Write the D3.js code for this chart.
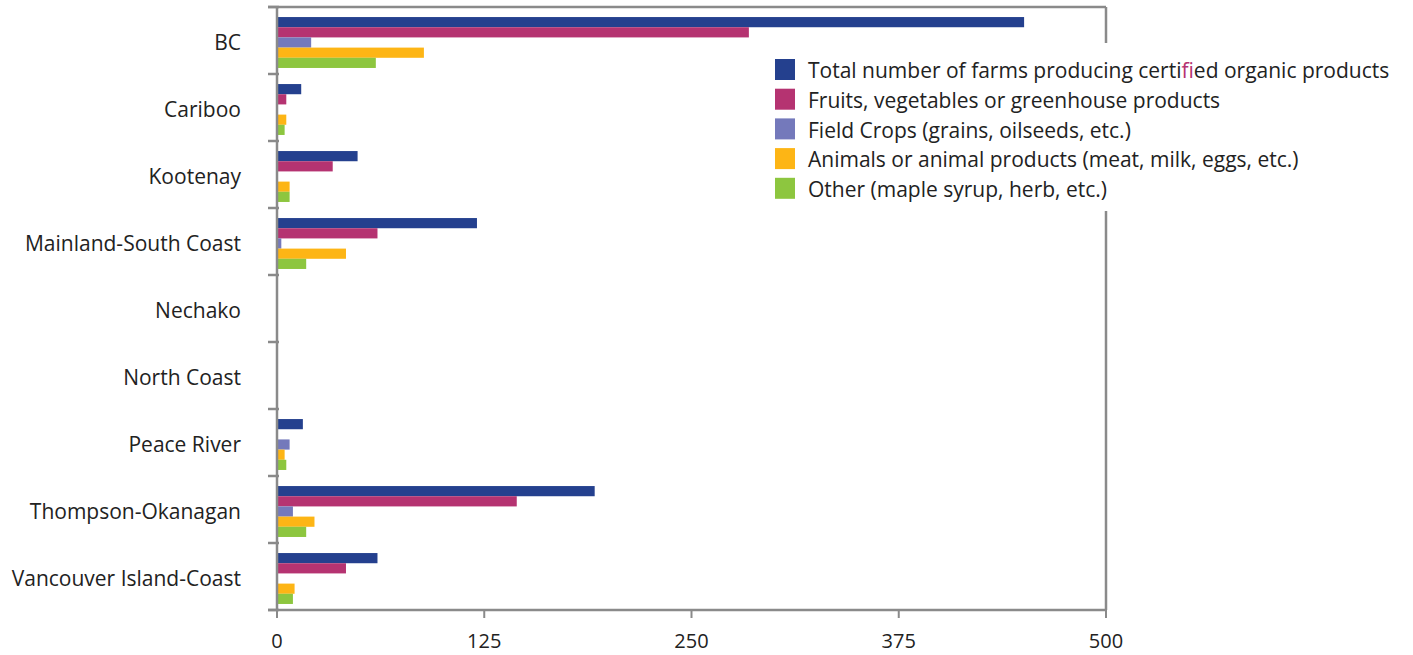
<!DOCTYPE html>
<html>
<head>
<meta charset="utf-8">
<script src="https://cdn.jsdelivr.net/npm/d3@7"></script>
<style>
  body { margin: 0; background: #fff; }
  text { font-family: "Open Sans", sans-serif; fill: #222; }
</style>
</head>
<body>
<svg width="1413" height="655"></svg>
<script>
// regions (top to bottom)
var regions = ["BC", "Cariboo", "Kootenay", "Mainland-South Coast", "Nechako",
               "North Coast", "Peace River", "Thompson-Okanagan", "Vancouver Island-Coast"];

var seriesNames = [
  "Total number of farms producing certified organic products",
  "Fruits, vegetables or greenhouse products",
  "Field Crops (grains, oilseeds, etc.)",
  "Animals or animal products (meat, milk, eggs, etc.)",
  "Other (maple syrup, herb, etc.)"
];
var colors = ["#24408e", "#b53371", "#7479bb", "#fdb515", "#8dc63f"];

// values, one array per series
var totalFarms = [450, 14, 48, 120, 0, 0, 15, 191, 60];
var fruitsVeg  = [284, 5, 33, 60, 0, 0, 0, 144, 41];
var fieldCrops = [20, 0, 0, 2, 0, 0, 7, 9, 0];
var animals    = [88, 5, 7, 41, 0, 0, 4, 22, 10];
var other      = [59, 4, 7, 17, 0, 0, 5, 17, 9];
var series = [totalFarms, fruitsVeg, fieldCrops, animals, other];

var xTicks = [0, 125, 250, 375, 500];

var svg = d3.select("svg"),
    margin = {top: 7, right: 307, bottom: 45, left: 277},
    width = svg.attr("width") - margin.left - margin.right,
    height = svg.attr("height") - margin.top - margin.bottom;

var g = svg.append("g")
    .attr("transform", "translate(" + margin.left + "," + margin.top + ")");

var x = d3.scaleLinear().domain([0, 500]).range([0, width]);
var y = d3.scaleBand().domain(regions).range([0, height]);
var bw = y.bandwidth();
var y1 = d3.scaleBand().domain(d3.range(series.length)).range([bw * 0.15, bw * 0.91]);

// bars
regions.forEach(function(r, i) {
  var row = g.append("g").attr("transform", "translate(0," + y(r) + ")");
  row.selectAll("rect")
    .data(series.map(function(s, k) { return {k: k, v: s[i]}; }).filter(function(d) { return d.v > 0; }))
    .enter().append("rect")
      .attr("x", 1)
      .attr("y", function(d) { return y1(d.k); })
      .attr("width", function(d) { return x(d.v); })
      .attr("height", y1.bandwidth())
      .attr("fill", function(d) { return colors[d.k]; });
});

var axisColor = "#8a8a8a";

// frame: top and right
g.append("line").attr("x1", -9).attr("x2", width).attr("y1", 0).attr("y2", 0)
  .attr("stroke", axisColor).attr("stroke-width", 2.5);
g.append("line").attr("x1", width).attr("x2", width).attr("y1", 0).attr("y2", height)
  .attr("stroke", axisColor).attr("stroke-width", 2.5);

// left axis with ticks at band edges
g.append("line").attr("x1", 0).attr("x2", 0).attr("y1", 0).attr("y2", height)
  .attr("stroke", axisColor).attr("stroke-width", 2.5);
var edges = regions.map(function(r) { return y(r); }).concat([height]);
g.selectAll(".ytick").data(edges).enter().append("line")
  .attr("class", "ytick")
  .attr("x1", -9).attr("x2", 2)
  .attr("y1", function(d) { return d; }).attr("y2", function(d) { return d; })
  .attr("stroke", axisColor).attr("stroke-width", 2.5);

g.selectAll(".ylabel").data(regions).enter().append("text")
  .attr("class", "ylabel")
  .attr("x", -36)
  .attr("y", function(d) { return y(d) + bw / 2 + 2; })
  .attr("dy", "0.35em")
  .attr("text-anchor", "end")
  .style("font-size", "21px")
  .text(function(d) { return d; });

// bottom axis
g.append("line").attr("x1", -9).attr("x2", width).attr("y1", height).attr("y2", height)
  .attr("stroke", axisColor).attr("stroke-width", 2.5);
g.selectAll(".xtick").data(xTicks).enter().append("line")
  .attr("class", "xtick")
  .attr("x1", function(d) { return x(d); }).attr("x2", function(d) { return x(d); })
  .attr("y1", height).attr("y2", height + 8)
  .attr("stroke", axisColor).attr("stroke-width", 2);
g.selectAll(".xlabel").data(xTicks).enter().append("text")
  .attr("class", "xlabel")
  .attr("x", function(d) { return x(d); })
  .attr("y", height + 38)
  .attr("text-anchor", "middle")
  .style("font-size", "20px")
  .text(function(d) { return d; });

// legend, on a white box that hides the frame behind it
var legend = svg.append("g").attr("transform", "translate(775,59)");
legend.append("rect")
  .attr("x", -13).attr("y", -16).attr("width", 650).attr("height", 168)
  .attr("fill", "#fff");
var item = legend.selectAll(".item").data(seriesNames).enter().append("g")
  .attr("class", "item")
  .attr("transform", function(d, i) { return "translate(0," + i * 29.7 + ")"; });
item.append("rect")
  .attr("width", 20).attr("height", 21)
  .attr("fill", function(d, i) { return colors[i]; });
item.append("text")
  .attr("x", 33).attr("y", 12).attr("dy", "0.35em")
  .style("font-size", "21px")
  .each(function(d) {
    var t = d3.select(this);
    if (d.indexOf("certified") >= 0) {
      // the source renders the "fi" ligature in pink
      var parts = d.split("certified");
      t.append("tspan").text(parts[0] + "certi");
      t.append("tspan").style("fill", "#b53371").text("fi");
      t.append("tspan").text("ed" + parts[1]);
    } else {
      t.text(d);
    }
  });
</script>
</body>
</html>
